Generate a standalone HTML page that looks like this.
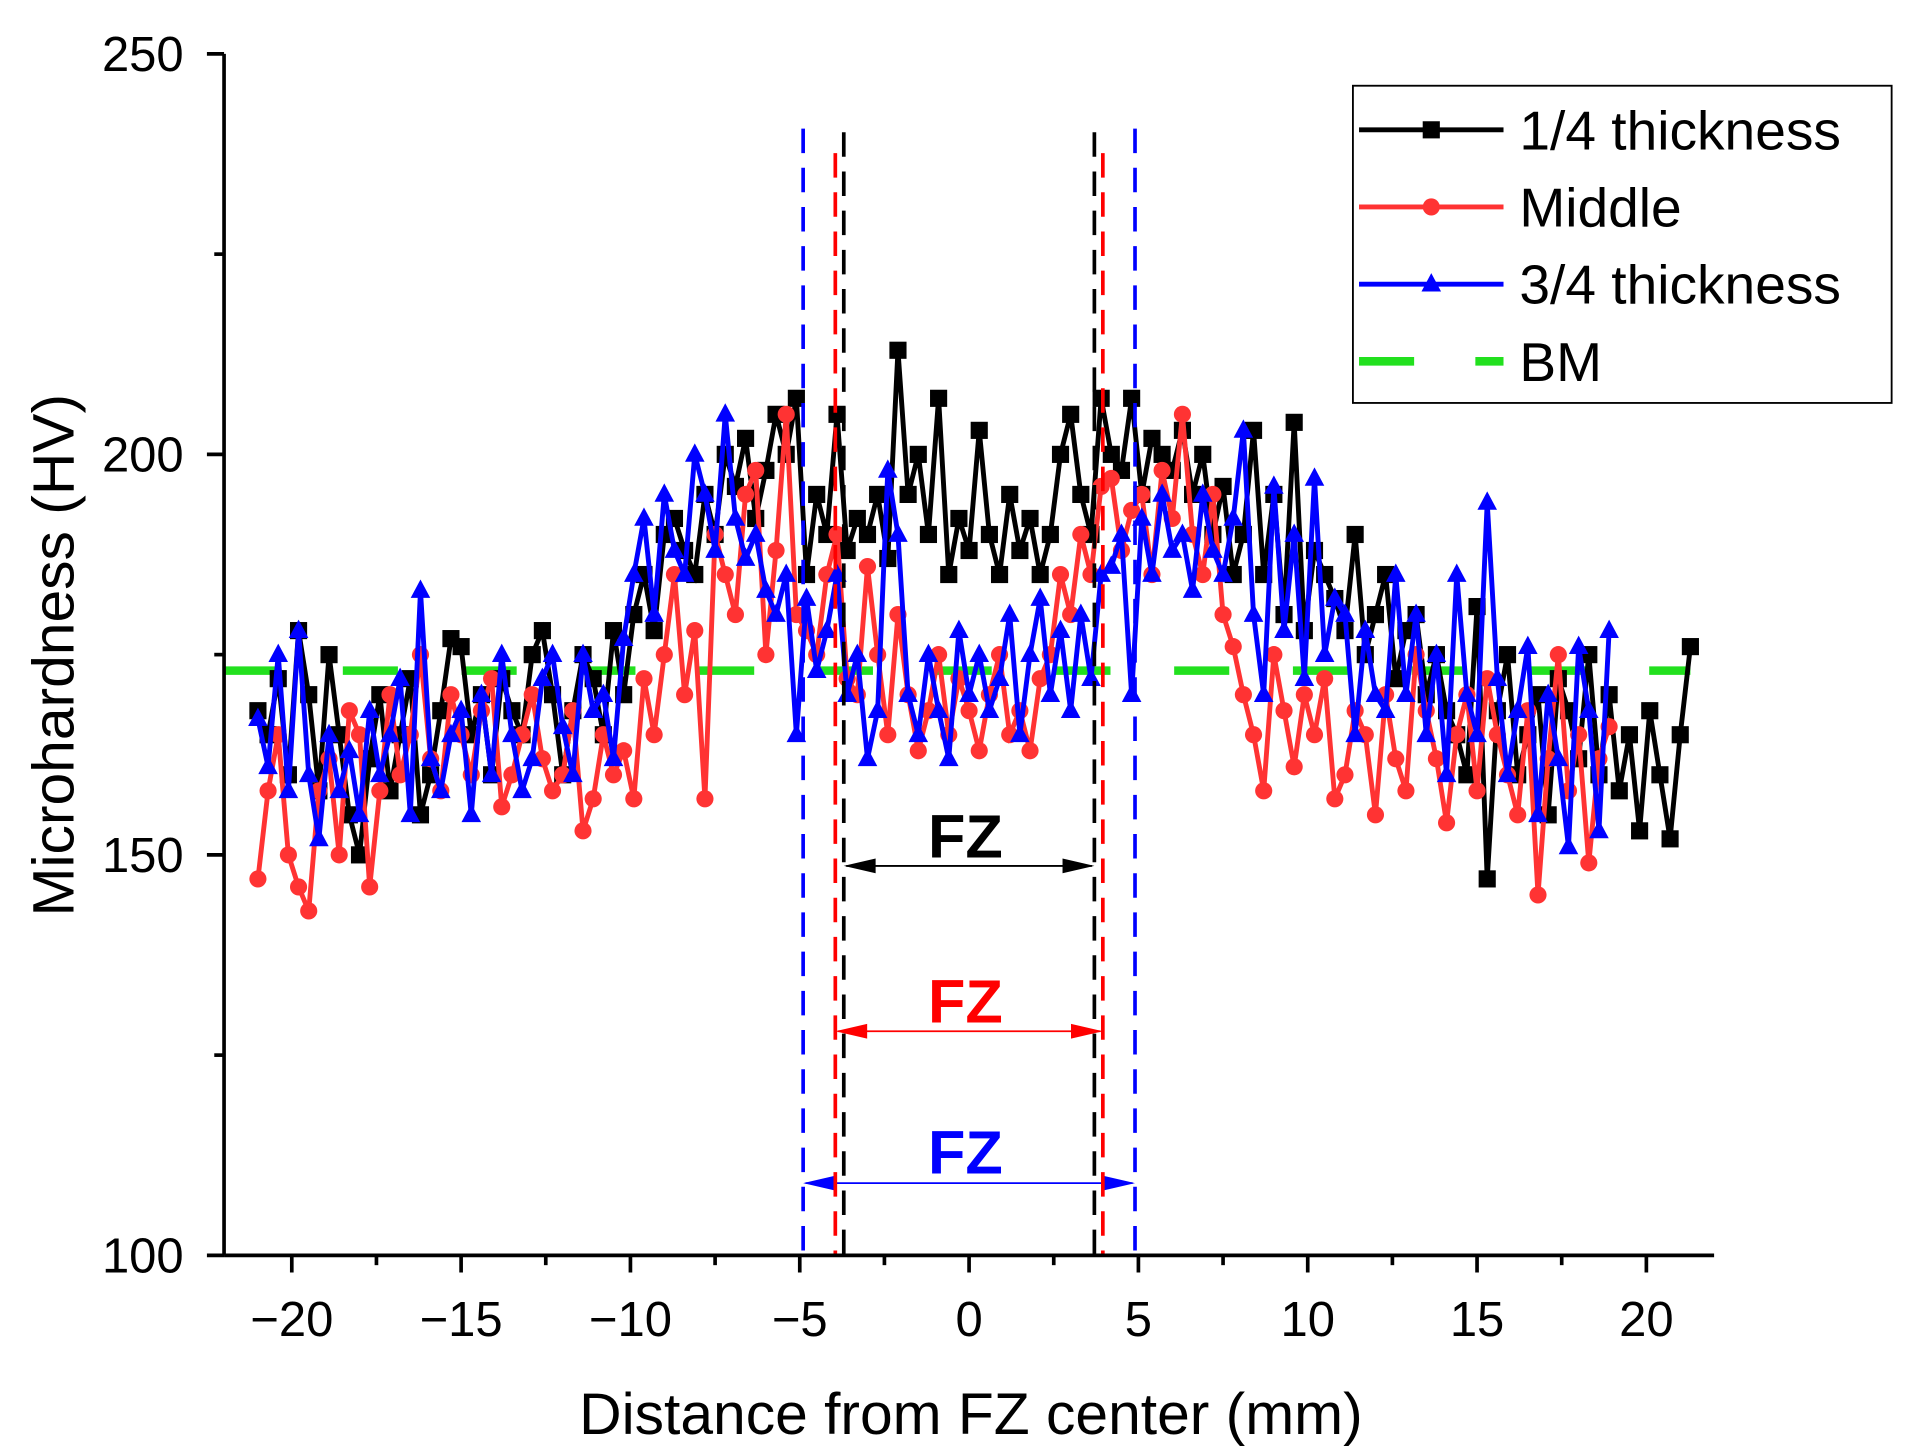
<!DOCTYPE html>
<html><head><meta charset="utf-8"><style>
html,body{margin:0;padding:0;background:#fff}
svg{display:block}
text{font-family:"Liberation Sans",sans-serif}
</style></head><body>
<svg id="chart" width="1910" height="1455" viewBox="0 0 1560 1188" preserveAspectRatio="none" xmlns="http://www.w3.org/2000/svg">
<g id="plot"></g>
</svg>
<script>
const yTicks = [100,150,200,250];
const xTicks = [-20,-15,-10,-5,0,5,10,15,20];
const blackStart = -21, redStart = -21, blueStart = -21, step = 0.3;
const quarterVals = [168,165,172,160,178,170,158,175,165,155,150,162,170,158,165,172,155,160,168,177,176,165,170,160,172,168,165,175,178,170,160,168,175,172,165,178,170,
180,185,178,190,192,188,185,195,190,200,196,202,192,198,205,200,207,
185,195,190,205,188,192,190,195,187,213,195,200,190,207,185,192,188,203,190,185,195,188,192,185,190,200,205,195,190,207,
200,198,207,195,202,200,198,203,195,200,190,196,185,
190,203,185,195,180,204,178,188,185,182,178,190,175,180,185,172,178,180,170,175,168,165,160,
181,147,168,175,160,165,170,155,172,168,162,175,160,170,158,165,153,168,160,152,165,176];
const middleVals = [147,158,165,150,146,143,158,162,150,168,165,146,158,170,160,165,175,162,158,170,165,160,168,172,156,160,165,170,162,158,160,168,153,157,165,160,163,
157,172,165,175,185,170,178,157,190,185,180,195,198,175,188,205,180,
178,175,185,190,172,170,186,175,165,180,170,163,168,175,165,172,168,163,170,175,165,168,163,172,175,185,180,
190,185,196,197,188,193,195,185,198,192,205,190,185,195,180,176,170,
165,158,175,168,161,170,165,172,157,160,168,165,155,170,162,158,175,168,162,154,165,170,158,172,165,160,155,168,145,162,175,158,165,149,162,166];
const threeQVals = [167,161,175,158,178,160,152,165,158,163,155,168,160,165,172,155,183,162,158,165,168,155,170,160,175,165,158,162,172,175,166,160,175,168,170,162,177,
185,192,180,195,188,185,200,195,188,205,192,187,190,183,180,185,165,
182,173,178,185,170,175,162,168,198,190,170,165,175,168,162,178,170,175,168,172,180,165,175,182,170,178,168,180,172,185,
186,190,170,192,185,195,188,190,183,195,188,185,192,203,
180,170,196,178,190,172,197,175,182,180,165,178,170,168,185,170,180,165,175,160,185,170,165,194,172,160,168,176,155,170,162,151,176,168,153,178];
const bmValue = 173;
const fzBlack = [-3.7,3.7], fzRed = [-3.95,3.95], fzBlue = [-4.9,4.9];

const NS="http://www.w3.org/2000/svg";
const g=document.getElementById('plot');
const X0=183,X1=1400,Y0=1025,Y1=44;
const sx=v=>X0+(v+22)/44*(X1-X0);
const sy=v=>Y0-(v-100)/150*(Y0-Y1);
function mk(t,a,p){const e=document.createElementNS(NS,t);for(const k in a)e.setAttribute(k,a[k]);(p||g).appendChild(e);return e;}

let e=mk('line',{x1:sx(-22),x2:sx(21.3),y1:sy(bmValue),y2:sy(bmValue),stroke:'#22e01e','stroke-width':7,'stroke-dasharray':'45 52'});



function series(vals,start,color,marker,name){
  const pts=vals.map((v,i)=>[sx(start+i*step),sy(v)]);
  let l=mk('polyline',{points:pts.map(p=>p.join(',')).join(' '),fill:'none',stroke:color,'stroke-width':4});
  
  
  pts.forEach(p=>{
    let m;
    if(marker==='s')m=mk('rect',{x:p[0]-7,y:p[1]-7,width:14,height:14,fill:color});
    else if(marker==='c')m=mk('circle',{cx:p[0],cy:p[1],r:7,fill:color});
    else m=mk('polygon',{points:`${p[0]},${p[1]-9} ${p[0]-8},${p[1]+6} ${p[0]+8},${p[1]+6}`,fill:color});
    
    
  });
}
series(quarterVals,blackStart,'#000','s','quarter-thickness');
series(middleVals,redStart,'#f33','c','middle');
series(threeQVals,blueStart,'#0000ff','t','three-quarter-thickness');

function fz(b,color,top,ay,ty,name){
  b.forEach(v=>{let d=mk('line',{x1:sx(v),x2:sx(v),y1:top,y2:Y0,stroke:color,'stroke-width':3,'stroke-dasharray':'20 12'});
    
    });
  let a=mk('line',{x1:sx(b[0])+2,x2:sx(b[1])-2,y1:ay,y2:ay,stroke:color,'stroke-width':1.5});
  
  
  const l=sx(b[0]),r=sx(b[1]);
  mk('polygon',{points:`${l},${ay} ${l+26},${ay-6} ${l+26},${ay+6}`,fill:color});
  mk('polygon',{points:`${r},${ay} ${r-26},${ay-6} ${r-26},${ay+6}`,fill:color});
  let t=mk('text',{x:(l+r)/2-3,y:ty,'text-anchor':'middle','font-size':50,'font-weight':'bold',fill:color});
  t.textContent='FZ';
  
  
}
fz(fzBlue,'#0000ff',105,966,958,'fz-blue');
fz(fzBlack,'#000',108,707,700,'fz-black');
fz(fzRed,'#f00',125,842,835,'fz-red');

e=mk('line',{x1:X0,x2:X0,y1:Y1,y2:Y0,stroke:'#000','stroke-width':3});


e=mk('line',{x1:X0,x2:X1,y1:Y0,y2:Y0,stroke:'#000','stroke-width':3});


for(let v=100;v<=250;v+=25){const maj=yTicks.includes(v);mk('line',{x1:X0-(maj?14:8),x2:X0,y1:sy(v),y2:sy(v),stroke:'#000','stroke-width':3});}
yTicks.forEach(v=>{let t=mk('text',{x:150,y:sy(v)+14,'text-anchor':'end','font-size':40});t.textContent=v;
  
  });
for(let v=-20;v<=20;v+=2.5){const maj=xTicks.includes(v);mk('line',{x1:sx(v),x2:sx(v),y1:Y0,y2:Y0+(maj?14:8),stroke:'#000','stroke-width':3});}
xTicks.forEach(v=>{let t=mk('text',{x:sx(v),y:1091,'text-anchor':'middle','font-size':40});t.textContent=v<0?'\u2212'+(-v):v;
  
  });
e=mk('text',{x:793,y:1171,'text-anchor':'middle','font-size':48});e.textContent='Distance from FZ center (mm)';


e=mk('text',{x:60,y:535,'text-anchor':'middle','font-size':48,transform:'rotate(-90 60 535)'});e.textContent='Microhardness (HV)';



const lg=mk('g',{});


mk('rect',{x:1105,y:70,width:440,height:259,fill:'#fff',stroke:'#000','stroke-width':1.5},lg);
const leg=[['1/4 thickness','#000','s'],['Middle','#f33','c'],['3/4 thickness','#0000ff','t'],['BM','#22e01e','d']];
leg.forEach((it,i)=>{const y=106+i*63;const c=mk('g',{},lg);
  
  
  if(it[2]==='d'){mk('line',{x1:1110,x2:1155,y1:y,y2:y,stroke:it[1],'stroke-width':7},c);mk('line',{x1:1205,x2:1228,y1:y,y2:y,stroke:it[1],'stroke-width':7},c);}
  else{mk('line',{x1:1110,x2:1228,y1:y,y2:y,stroke:it[1],'stroke-width':4},c);
    if(it[2]==='s')mk('rect',{x:1162,y:y-7,width:14,height:14,fill:it[1]},c);
    else if(it[2]==='c')mk('circle',{cx:1169,cy:y,r:7,fill:it[1]},c);
    else mk('polygon',{points:`1169,${y-9} 1161,${y+6} 1177,${y+6}`,fill:it[1]},c);}
  const t=mk('text',{x:1241,y:y+16,'font-size':45},c);t.textContent=it[0];});
</script>
</body></html>
